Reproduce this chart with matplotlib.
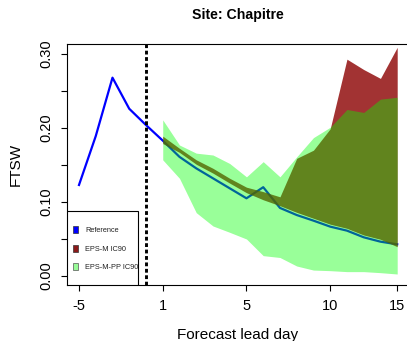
import numpy as np
import matplotlib
matplotlib.use('Agg')
import matplotlib.pyplot as plt
from matplotlib.patches import Patch, Rectangle

plt.rcParams['font.family'] = ['Liberation Sans', 'DejaVu Sans']

# ---------------- data ----------------
lead_days = [-5, -4, -3, -2, -1, 1, 2, 3, 4, 5, 6, 7, 8, 9, 10, 11, 12, 13, 14, 15]
reference = [0.123, 0.189, 0.268, 0.226, 0.204,
             0.183, 0.161, 0.1455, 0.132, 0.1185, 0.105, 0.120, 0.092, 0.0824,
             0.0748, 0.0667, 0.0613, 0.0523, 0.0464, 0.0428]

forecast_days = [1, 2, 3, 4, 5, 6, 7, 8, 9, 10, 11, 12, 13, 14, 15]
eps_m_low = [0.179, 0.167, 0.151, 0.139, 0.1255, 0.1126, 0.103, 0.095, 0.086,
             0.078, 0.070, 0.0644, 0.0554, 0.0496, 0.0396]
eps_m_high = [0.189, 0.1725, 0.157, 0.1455, 0.132, 0.120, 0.114, 0.107, 0.159,
              0.170, 0.199, 0.293, 0.279, 0.267, 0.309]
eps_pp_low = [0.157, 0.132, 0.0856, 0.0676, 0.059, 0.050, 0.0275, 0.025, 0.0135,
              0.008, 0.0072, 0.0059, 0.0059, 0.0045, 0.0027]
eps_pp_high = [0.211, 0.177, 0.166, 0.1635, 0.152, 0.134, 0.1545, 0.134, 0.161,
               0.187, 0.201, 0.225, 0.221, 0.239, 0.2415]

tick_positions = [0, 5, 10, 15, 19]
tick_labels = ['-5', '1', '5', '10', '15']
y_ticks = [0.0, 0.05, 0.10, 0.15, 0.20, 0.25, 0.30]
y_labels = ['0.00', '', '0.10', '', '0.20', '', '0.30']
legend_labels = ['Reference', 'EPS-M IC90', 'EPS-M-PP IC90']

# ---------------- figure ----------------
W, H = 407, 341
fig = plt.figure(figsize=(W / 100, H / 100), dpi=100)
ax_left, ax_right, ax_top, ax_bottom = 66.7, 409.5, 44, 285
ax = fig.add_axes([ax_left / W, 1 - ax_bottom / H,
                   (ax_right - ax_left) / W, (ax_bottom - ax_top) / H])

pos = np.arange(len(lead_days))
fpos = np.array([lead_days.index(d) for d in forecast_days])

ax.plot(pos, reference, color='#0000FF', lw=1.6, zorder=2)
ax.fill_between(fpos, eps_m_low, eps_m_high, color='#8B0000', alpha=0.8,
                lw=0, zorder=3)
ax.fill_between(fpos, eps_pp_low, eps_pp_high, color='#00FF00', alpha=0.4,
                lw=0, zorder=4)

ax.axvline(lead_days.index(-1), color='black', lw=2.1,
           linestyle=(0, (1.3, 0.9)), dash_capstyle='butt', zorder=5)

ax.set_xlim(-0.734, 19.734)
ax.set_ylim(-0.01216, 0.3135)

ax.set_xticks(tick_positions)
ax.set_xticklabels(tick_labels, fontsize=10.5)
ax.set_yticks(y_ticks)
ax.set_yticklabels(y_labels, fontsize=10.5, rotation=90, va='center')
ax.tick_params(axis='both', direction='out', length=4.3, width=0.8, color='black')
ax.tick_params(axis='x', pad=5.5)
ax.tick_params(axis='y', pad=5.5)
for s in ax.spines.values():
    s.set_color('black')
    s.set_linewidth(0.8)

# legend
handles = [Patch(facecolor='#0000FF', edgecolor='#333333', lw=0.5),
           Patch(facecolor='#8B1A1A', edgecolor='#333333', lw=0.5),
           Patch(facecolor='#98FB98', edgecolor='#555555', lw=0.5)]
leg = ax.legend(handles, legend_labels, loc='lower left',
                bbox_to_anchor=(0.0175, 0.058), frameon=False, fontsize=5.3,
                handlelength=0.68, handleheight=1.09, labelspacing=1.42,
                handletextpad=1.0, borderpad=0, borderaxespad=0)
for t in leg.get_texts():
    t.set_color('#222222')
leg.set_zorder(7)
frame_w = (137.7 - ax_left) / (ax_right - ax_left)
frame_h = (ax_bottom - 210.7) / (ax_bottom - ax_top)
ax.add_patch(Rectangle((0, 0), frame_w, frame_h, transform=ax.transAxes,
                       facecolor='white', edgecolor='black', lw=0.8, zorder=6))

fig.text(237.5 / W, 1 - 15 / H, 'Site: Chapitre', ha='center', va='center',
         fontsize=10.2, fontweight='bold')
fig.text(16 / W, 1 - 164.5 / H, 'FTSW', ha='center', va='center',
         rotation=90, fontsize=11)
fig.text(238 / W, 1 - 339 / H, 'Forecast lead day', ha='center',
         va='baseline', fontsize=11)

fig.savefig('out.png', dpi=100)
